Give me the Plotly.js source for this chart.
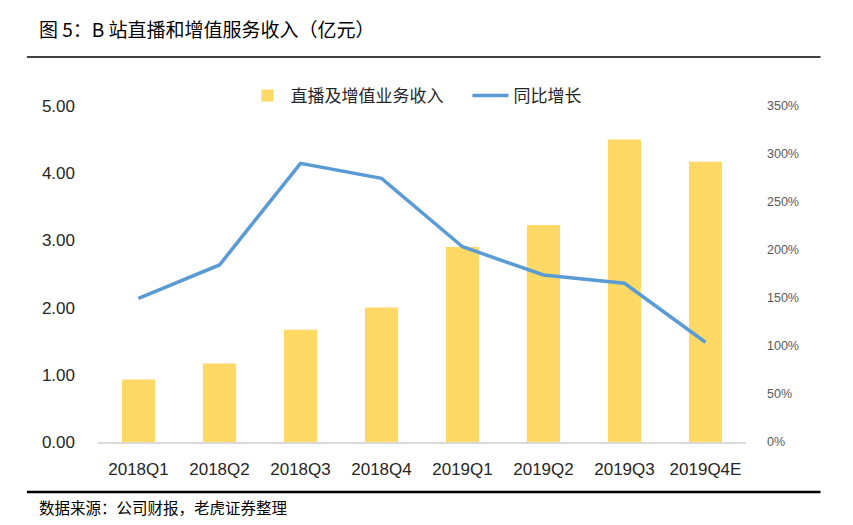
<!DOCTYPE html>
<html>
<head>
<meta charset="utf-8">
<script src="https://cdn.plot.ly/plotly-3.0.1.min.js"></script>
<style>html,body{margin:0;padding:0;background:#fff;}#chart{width:853px;height:525px;}</style>
</head>
<body>
<div id="chart"></div>
<script>
const categories = ["2018Q1","2018Q2","2018Q3","2018Q4","2019Q1","2019Q2","2019Q3","2019Q4E"];
const revenue = [0.93, 1.17, 1.67, 2.00, 2.90, 3.23, 4.50, 4.17];
const yoyGrowth = [149.7, 184.4, 290.3, 274.7, 203.4, 174.0, 165.3, 103.9];
const barName = "直播及增值业务收入";
const lineName = "同比增长";
const titleText = "图 5：B 站直播和增值服务收入（亿元）";
const sourceText = "数据来源：公司财报，老虎证券整理";

const cjk = '"Noto Sans CJK SC", "Liberation Sans", sans-serif';
const num = '"Liberation Sans", Arial, sans-serif';
const traces = [
  {type:'bar', x:categories, y:revenue, name:barName, marker:{color:'#FFD966'}, yaxis:'y', hoverinfo:'skip'},
  {type:'scatter', mode:'lines', x:categories, y:yoyGrowth, name:lineName, line:{color:'#5B9BD5', width:3.5}, yaxis:'y2', hoverinfo:'skip'}
];
const layout = {
  width:853, height:525,
  margin:{l:98, r:107, t:106, b:83},
  paper_bgcolor:'#fff', plot_bgcolor:'#fff',
  bargap:0.59,
  showlegend:true,
  legend:{orientation:'h', x:0.226, y:1.03, xanchor:'left', yanchor:'middle', font:{family:cjk, size:17, color:'#262626'}, traceorder:'normal', itemwidth:36, entrywidth:172, entrywidthmode:'pixels', bgcolor:'rgba(0,0,0,0)'},
  xaxis:{type:'category', showline:true, linecolor:'#d9d9d9', linewidth:1.5, showgrid:false, zeroline:false, ticks:'', tickfont:{family:num, size:17, color:'#262626'}, ticklabelstandoff:11},
  yaxis:{range:[0,5], dtick:1, tickformat:'.2f', showgrid:false, zeroline:false, showline:false, ticks:'', tickfont:{family:num, size:17, color:'#262626'}, ticklabelstandoff:22},
  yaxis2:{range:[0,350], dtick:50, ticksuffix:'%', overlaying:'y', side:'right', showgrid:false, zeroline:false, showline:false, ticks:'', tickfont:{family:num, size:12.5, color:'#595959'}, ticklabelstandoff:20},
  shapes:[
    {type:'line', xref:'paper', yref:'paper', x0:-0.1097, x1:1.115, y0:1.1458, y1:1.1458, line:{color:'#000', width:1.5}},
    {type:'line', xref:'paper', yref:'paper', x0:-0.1097, x1:1.115, y0:-0.1488, y1:-0.1488, line:{color:'#000', width:2.5}}
  ],
  annotations:[
    {text:titleText, xref:'paper', yref:'paper', x:-0.0942, y:1.232, xanchor:'left', yanchor:'middle', showarrow:false, font:{family:cjk, size:19, color:'#000'}},
    {text:sourceText, xref:'paper', yref:'paper', x:-0.0942, y:-0.1935, xanchor:'left', yanchor:'middle', showarrow:false, font:{family:cjk, size:15.5, color:'#000'}}
  ]
};
Plotly.newPlot('chart', traces, layout, {displayModeBar:false, staticPlot:true});
</script>
</body>
</html>
